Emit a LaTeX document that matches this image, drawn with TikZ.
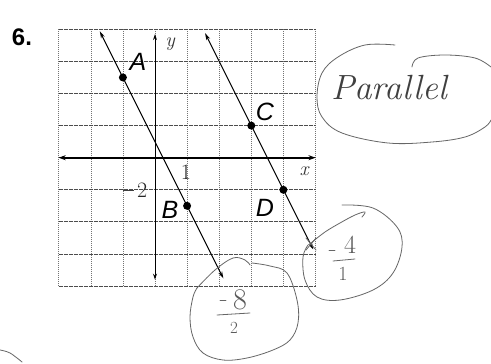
\documentclass[tikz,border=0pt]{standalone}
\usepackage{fontspec}
\newfontfamily\lsans{Liberation Sans}
\usetikzlibrary{arrows.meta}
\begin{document}
\begin{tikzpicture}[x=1pt,y=-1pt,
  gridv/.style={black!55, line width=0.6pt, dash pattern=on 1pt off 1pt},
  gridh/.style={black!70, line width=0.9pt, dash pattern=on 4pt off 1pt},
  xaxis/.style={black, line width=1.6pt, {Stealth[length=7pt,width=5pt]}-{Stealth[length=7pt,width=5pt]}},
  yaxis/.style={black, line width=1pt, {Stealth[length=6pt,width=4pt]}-{Stealth[length=6pt,width=4pt]}},
  ln/.style={black, line width=1pt, {Stealth[length=7pt,width=4pt]}-{Stealth[length=7pt,width=4pt]}},
  dot/.style={circle, fill=black, inner sep=0pt, minimum size=8pt},
  ptlabel/.style={font=\lsans\itshape\fontsize{25}{25}\selectfont, inner sep=0pt},
  axlabel/.style={font=\itshape\fontsize{20}{20}\selectfont, inner sep=0pt, text=black!80},
  numlabel/.style={font=\fontsize{22}{22}\selectfont, inner sep=0pt, text=black!85},
  pen/.style={black!60, line width=0.8pt, line cap=round, line join=round},
  hand/.style={text=black!65, inner sep=0pt}
]
\useasboundingbox (0,0) rectangle (491,364);
\fill[white] (0,0) rectangle (491,364);

% problem number
\node[font=\lsans\bfseries\fontsize{24}{24}\selectfont, inner sep=0pt] (num) at (22,37) {6.};

\begin{scope}[shift={(155pt,-157.7pt)}, x=32.1pt, y=32.1pt]
  % grid
  \foreach \i in {-3,...,5} \draw[gridv] (\i,-4) -- (\i,4);
  \foreach \j in {-4,...,4} \draw[gridh] (-3,\j) -- (5,\j);
  % axes
  \coordinate (xl) at (-3,0);
  \coordinate (xr) at (5,0);
  \coordinate (yt) at (0,3.85);
  \coordinate (yb) at (0,-3.8);
  \draw[xaxis] (xl) -- (xr);
  \draw[yaxis] (yb) -- (yt);
  % lines
  \coordinate (ab1) at (-1.72,3.94);
  \coordinate (ab2) at (2.13,-3.76);
  \coordinate (cd1) at (1.56,3.88);
  \coordinate (cd2) at (4.93,-2.86);
  \draw[ln] (ab1) -- (ab2);
  \draw[ln] (cd1) -- (cd2);
  % points
  \node[dot] (A) at (-1,2.5) {};
  \node[dot] (B) at (1,-1.5) {};
  \node[dot] (C) at (3,1) {};
  \node[dot] (D) at (4,-1) {};
\end{scope}

% labels
\node[ptlabel] (lA) at (138,62) {A};
\node[ptlabel] (lB) at (170,210) {B};
\node[ptlabel] (lC) at (265,112) {C};
\node[ptlabel] (lD) at (265,208) {D};
\node[axlabel] (ly) at (170,44) {y};
\node[axlabel] (lx) at (304,171) {x};
\node[numlabel] (l1) at (186,172) {1};
\node[numlabel] (lm2) at (135,190) {\textcolor{black!75}{\rule[0.3em]{0.5em}{0.045em}}\kern0.15em 2};

% Parallel and its loop
\node[hand, font=\itshape\fontsize{35}{35}\selectfont, text=black!75] (par) at (389,88) {Parallel};
\draw[pen] plot[smooth, tension=0.6] coordinates {(395,45) (365,45) (338,57) (322,73) (317,97) (322,117) (342,133) (388,143) (432,142) (465,137) (485,127) (491,120)};
\draw[pen] plot[smooth, tension=0.6] coordinates {(412,67) (418,58) (445,55) (475,58) (491,67)};

% loop round -4/1
\draw[pen] plot[smooth, tension=0.6] coordinates {(311,243) (325,232) (340,223) (355,215) (365,212) (362,217)};
\draw[pen] plot[smooth, tension=0.6] coordinates {(342,205) (373,208) (397,227) (402,247) (393,273) (373,290) (340,300) (317,297) (305,280) (303,257) (308,245)};
\draw[pen] (306,238) -- (316,250);
\draw[pen] (316,238) -- (306,250);
\coordinate (m4l) at (329,250);
\coordinate (m4r) at (335,250);
\draw[pen] (m4l) -- (m4r);
\node[hand, font=\fontsize{26}{26}\selectfont] (n4) at (350,245) {4};
\coordinate (b4l) at (333,261);
\coordinate (b4r) at (355,259);
\draw[pen] (b4l) -- (b4r);
\node[hand, font=\fontsize{20}{20}\selectfont] (n1) at (343,274) {1};

% loop round -8/2
\draw[pen] plot[smooth, tension=0.6] coordinates {(197,288) (215,270) (233,258) (245,260) (250,265)};
\draw[pen] plot[smooth, tension=0.6] coordinates {(252,263) (270,266) (287,273) (297,300) (298,323) (290,340) (273,350) (247,358) (223,360) (203,353) (193,337) (190,317) (193,297) (197,288)};
\coordinate (m8l) at (220,300);
\coordinate (m8r) at (226,300);
\draw[pen] (m8l) -- (m8r);
\node[hand, font=\fontsize{30}{30}\selectfont] (n8) at (240,300) {8};
\coordinate (b8l) at (217,315);
\coordinate (b8r) at (250,313);
\draw[pen] (b8l) -- (b8r);
\node[hand, font=\fontsize{17}{17}\selectfont] (n2) at (234,328) {2};

% arc at lower left corner
\draw[pen] plot[smooth, tension=0.6] coordinates {(0,350) (10,353) (22,362)};
\end{tikzpicture}
\end{document}
